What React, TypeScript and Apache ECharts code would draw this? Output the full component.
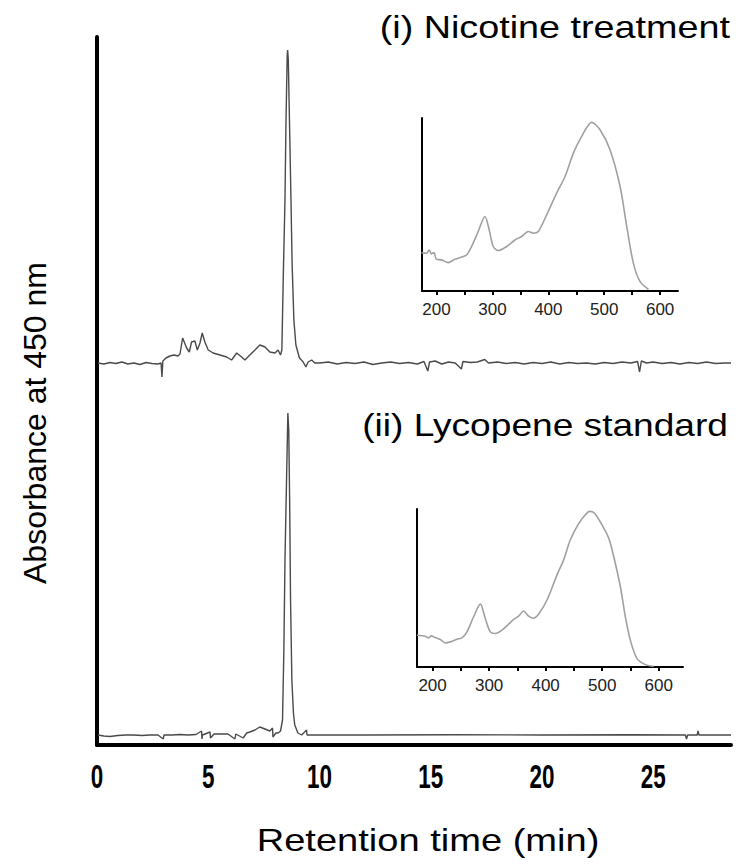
import React, { useEffect, useRef } from "react";
import * as echarts from "echarts";

// Retention time (min), absorbance above each trace's own baseline (arbitrary units)
const nicotineTrace: [number, number][] = [
  [0.04, 0], [0.31, -1], [0.58, 0.5], [0.85, -0.5], [1.12, 1], [1.39, -1], [1.66, 0], [1.93, -1.5],
  [2.2, 0.5], [2.47, -0.5], [2.74, -1], [2.88, 0], [2.92, -14], [2.96, 2], [3.1, 5], [3.28, 7],
  [3.46, 8], [3.64, 7], [3.73, 9], [3.85, 25], [4.03, 15], [4.15, 11], [4.25, 21], [4.4, 22],
  [4.51, 13], [4.63, 20], [4.73, 30], [4.85, 21], [5.0, 13], [5.22, 10], [5.53, 8], [5.83, 6],
  [6.05, 3], [6.28, 10], [6.5, 6], [6.65, 3], [6.87, 8], [7.1, 13], [7.32, 18], [7.55, 16],
  [7.77, 11], [8.0, 10], [8.14, 13], [8.25, 8], [8.31, 13], [8.38, 93], [8.45, 163], [8.49, 233],
  [8.55, 308], [8.57, 313], [8.6, 303], [8.66, 233], [8.72, 163], [8.77, 100], [8.85, 43], [8.94, 18],
  [9.1, 5], [9.27, 1], [9.39, -4], [9.49, 1], [9.65, 3], [9.79, 0], [10.02, 0],
  [10.4, 1], [10.8, -1], [11.2, 0.5], [11.6, -0.5], [12.0, 1], [12.4, -1.5], [12.8, 0], [13.2, 1],
  [13.6, -0.5], [14.0, 0.5], [14.4, -1], [14.7, 1.5], [14.87, -8], [14.95, 1], [15.2, 2], [15.5, -1],
  [15.8, 1], [16.1, 0], [16.38, -6], [16.45, 1.5], [16.8, 0.5], [17.1, 1], [17.43, 3.5], [17.6, 0],
  [18.0, 1], [18.4, -0.5], [18.8, 0.5], [19.2, -1], [19.6, 0.5], [20.0, -0.5], [20.4, 1], [20.8, -1],
  [21.2, 0.5], [21.6, -0.5], [22.0, 0], [22.4, -1], [22.8, 0.5], [23.2, -0.5], [23.6, 1], [24.0, 0],
  [24.3, 1.5], [24.39, -9], [24.47, 2], [24.7, 0], [25.0, 1], [25.4, -0.5], [25.8, 0.5], [26.2, -1],
  [26.6, 0.5], [27.0, -0.5], [27.4, 1], [27.8, -0.5], [28.2, 0], [28.5, 0],
];

const standardTrace: [number, number][] = [
  [0.04, 0], [0.31, -1], [0.58, -1.5], [0.94, -0.5], [1.3, 0], [1.66, 0], [2.02, -0.5], [2.38, 0],
  [2.74, 0], [2.98, -4], [3.01, 0], [3.37, 0], [3.73, 0.5], [4.09, 0], [4.45, 0.5], [4.7, 4],
  [4.72, -4], [4.74, 0], [5.08, 3], [5.1, -3], [5.26, 1], [5.53, 1], [5.89, 1], [6.2, -4],
  [6.24, 1], [6.57, -3], [6.73, 2], [6.87, 3], [7.1, 5], [7.32, 8], [7.55, 6], [7.77, 4],
  [7.89, 7], [7.91, -2], [8.04, 2], [8.14, 2], [8.25, 4], [8.34, 15], [8.4, 85], [8.45, 175],
  [8.52, 255], [8.58, 322], [8.62, 305], [8.66, 235], [8.7, 135], [8.76, 55], [8.83, 22], [8.89, 10],
  [9.03, 2], [9.2, 0], [9.42, 5], [9.44, 0], [12.0, 0], [16.0, 0.3], [20.0, 0], [24.0, 0.3],
  [26.45, 0], [26.5, -4], [26.55, 0], [26.98, 0], [27.02, 4], [27.06, 0], [28.5, 0],
];

// Vertical offsets of the stacked chromatograms
const nicotineOffset = 382;
const standardOffset = 10;

// Main x-axis tick labels (min)
const mainTickValues = [0, 5, 10, 15, 20, 25];

// Inset absorption spectra: wavelength (nm), relative absorbance (%)
const nicotineSpectrum: [number, number][] = [
  [173.1, 22.2], [182.1, 21.8], [186.9, 23.7], [191.0, 21.4], [195.2, 22.2], [200, 18.3], [209, 18.0],
  [220.9, 16.4], [232.8, 18.3], [247.8, 19.9], [253.7, 20.8], [262.7, 25.7], [274.6, 34.4],
  [286.6, 43.1], [294.3, 35.3], [301.5, 25.7], [310.4, 23.4], [325.4, 25.7], [340.3, 29.5],
  [352.2, 31.5], [364.2, 34.4], [373.1, 33.4], [382.1, 34.4], [397, 44.0], [414.9, 56.6],
  [429.9, 66.2], [444.8, 79.7], [459.7, 89.4], [477.6, 97.5], [492.5, 93.2], [510.4, 81.7],
  [528.4, 60.4], [540.3, 37.3], [552.2, 16.0], [564.2, 5.4], [579.1, 1.0],
];

const standardSpectrum: [number, number][] = [
  [172.3, 20.1], [187.0, 19.5], [192.9, 18.4], [197.6, 19.7], [204.7, 18.6], [213.6, 17.4],
  [222.4, 15.3], [231.3, 15.9], [243.1, 17.6], [251.9, 18.4], [260.8, 22.2], [272.6, 31.8],
  [284.4, 39.8], [293.2, 30.7], [302.1, 22.2], [310.9, 21.2], [322.7, 23.3], [334.5, 27.1],
  [343.4, 30.1], [352.2, 32.2], [361.1, 35.4], [369.9, 32.2], [378.8, 30.9], [387.6, 33.5],
  [402.4, 42.4], [420.1, 58.3], [431.9, 67.8], [443.7, 80.5], [458.4, 90.7], [470.2, 96.4],
  [477.9, 98.5], [486.1, 97.5], [499.7, 90.0], [511.5, 81.6], [520.4, 69.9], [532.2, 50.8],
  [541.0, 31.8], [549.9, 16.9], [561.7, 5.3], [576.4, 1.5], [591.2, 0.4],
];

const insetTickValues = [200, 250, 300, 350, 400, 450, 500, 550, 600];
const insetLabelValues = [200, 300, 400, 500, 600];

const titleFont = "'Liberation Sans', Arial, sans-serif";

function insetX(gridIndex: number, min: number, max: number) {
  return {
    type: "value",
    gridIndex,
    min,
    max,
    axisLine: { show: true, lineStyle: { color: "#000", width: 2 } },
    axisTick: {
      show: true,
      customValues: insetTickValues,
      length: 4,
      inside: false,
      lineStyle: { color: "#000", width: 2 },
    },
    axisLabel: {
      show: true,
      customValues: insetLabelValues,
      fontSize: 17,
      fontFamily: titleFont,
      color: "#222",
      margin: 10,
    },
    splitLine: { show: false },
  };
}

function insetY(gridIndex: number) {
  return {
    type: "value",
    gridIndex,
    min: 0,
    max: 100,
    axisLine: { show: true, lineStyle: { color: "#000", width: 2 } },
    axisTick: { show: false },
    axisLabel: { show: false },
    splitLine: { show: false },
  };
}

function titleText(text: string, x: number, y: number, align: string, scaleX: number, rotation = 0) {
  return {
    type: "text",
    x,
    y,
    rotation,
    scaleX,
    style: {
      text,
      fontSize: 32,
      fontFamily: titleFont,
      fill: "#000",
      align,
      verticalAlign: "middle",
    },
  };
}

export default function App() {
  const ref = useRef<HTMLDivElement>(null);
  useEffect(() => {
    document.body.style.margin = "0";
    const chart = echarts.init(ref.current!, null, { renderer: "svg" });
    const option = {
      animation: false,
      backgroundColor: "#fff",
      grid: [
        { left: 97, top: 37, width: 634, height: 708, outerBoundsMode: "none" },
        { left: 422, top: 118, width: 256, height: 173, outerBoundsMode: "none" },
        { left: 417, top: 509, width: 266, height: 158, outerBoundsMode: "none" },
      ],
      xAxis: [
        {
          type: "value",
          gridIndex: 0,
          min: 0,
          max: 28.5,
          interval: 5,
          axisLine: { show: true, lineStyle: { color: "#000", width: 4 } },
          axisTick: { show: false },
          axisLabel: { show: false },
          splitLine: { show: false },
        },
        insetX(1, 174, 632),
        insetX(2, 172.4, 643),
      ],
      yAxis: [
        {
          type: "value",
          gridIndex: 0,
          min: 0,
          max: 708,
          axisLine: { show: true, lineStyle: { color: "#000", width: 4 } },
          axisTick: { show: false },
          axisLabel: { show: false },
          splitLine: { show: false },
        },
        insetY(1),
        insetY(2),
      ],
      series: [
        {
          type: "line",
          xAxisIndex: 0,
          yAxisIndex: 0,
          showSymbol: false,
          lineStyle: { color: "#4a4a4a", width: 1.4 },
          data: nicotineTrace.map(([t, a]) => [t, a + nicotineOffset]),
        },
        {
          type: "line",
          xAxisIndex: 0,
          yAxisIndex: 0,
          showSymbol: false,
          lineStyle: { color: "#4a4a4a", width: 1.4 },
          data: standardTrace.map(([t, a]) => [t, a + standardOffset]),
        },
        {
          type: "line",
          xAxisIndex: 1,
          yAxisIndex: 1,
          showSymbol: false,
          smooth: 0.3,
          lineStyle: { color: "#a0a0a0", width: 1.6 },
          data: nicotineSpectrum,
        },
        {
          type: "line",
          xAxisIndex: 2,
          yAxisIndex: 2,
          showSymbol: false,
          smooth: 0.3,
          lineStyle: { color: "#a0a0a0", width: 1.6 },
          data: standardSpectrum,
        },
      ],
    };
    chart.setOption(option as any);

    // Main x tick labels: narrow digits placed through the axis scale
    const tickLabels = mainTickValues.map((v) => {
      const px = chart.convertToPixel({ xAxisIndex: 0 } as any, v) as number;
      return {
        type: "text",
        x: px,
        y: 776,
        scaleX: 0.68,
        style: {
          text: String(v),
          fontSize: 33,
          fontWeight: "bold",
          fontFamily: titleFont,
          fill: "#000",
          align: "center",
          verticalAlign: "middle",
        },
      };
    });

    chart.setOption({
      graphic: [
        titleText("(i) Nicotine treatment", 730, 27, "right", 1.18),
        titleText("(ii) Lycopene standard", 728, 425, "right", 1.16),
        titleText("Retention time (min)", 428, 840, "center", 1.19),
        titleText("Absorbance at 450 nm", 35, 423, "center", 1.0, Math.PI / 2),
        ...tickLabels,
      ],
    } as any);
    return () => chart.dispose();
  }, []);
  return (
    <div
      ref={ref}
      style={{ position: "absolute", left: 0, top: 0, width: 742, height: 865 }}
    />
  );
}
